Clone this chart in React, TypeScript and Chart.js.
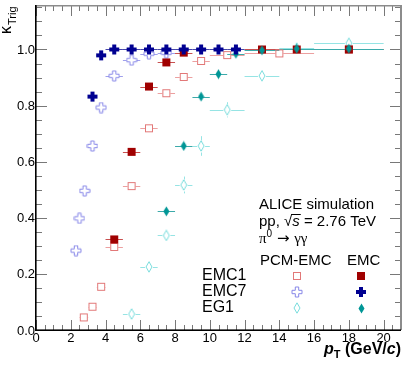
import React, { useEffect, useRef } from 'react';
import { Chart, registerables } from 'chart.js';

Chart.register(...registerables);

// ---------------- data ----------------
// EMC1 trigger, PCM-EMC (open squares)
const emc1PcmX = [2.75, 3.25, 3.75, 4.5, 5.5, 6.5, 7.5, 8.5, 9.5, 11, 14, 18];
const emc1PcmY = [0.045, 0.083, 0.154, 0.296, 0.513, 0.719, 0.844, 0.902, 0.959, 0.98, 0.986, 1.0];
const emc1PcmLo = [2.5, 3, 3.5, 4, 5, 6, 7, 8, 9, 10, 12, 16];
const emc1PcmHi = [3, 3.5, 4, 5, 6, 7, 8, 9, 10, 12, 16, 20];
const emc1PcmErr = [0.004, 0.005, 0.006, 0.008, 0.008, 0.008, 0.008, 0.008, 0.006, 0.006, 0.006, 0.006];

// EMC1 trigger, EMC (filled squares)
const emc1EmcX = [4.5, 5.5, 6.5, 7.5, 8.5, 13, 15, 18];
const emc1EmcY = [0.323, 0.635, 0.868, 0.954, 0.989, 1.0, 1.0, 1.0];
const emc1EmcLo = [4, 5, 6, 7, 8, 12, 14, 16];
const emc1EmcHi = [5, 6, 7, 8, 9, 14, 16, 20];
const emc1EmcErr = [0.005, 0.005, 0.004, 0.003, 0.002, 0.002, 0.002, 0.002];

// EMC7 trigger, PCM-EMC (open crosses)
const emc7PcmX = [2.3, 2.5, 2.8, 3.25, 3.75, 4.5, 5.5, 6.5, 7.5];
const emc7PcmY = [0.283, 0.398, 0.496, 0.656, 0.793, 0.906, 0.962, 0.985, 0.988];
const emc7PcmLo = [2.2, 2.4, 2.6, 3, 3.5, 4, 5, 6, 7];
const emc7PcmHi = [2.4, 2.6, 3, 3.5, 4, 5, 6, 7, 8];
const emc7PcmErr = [0.006, 0.006, 0.006, 0.006, 0.006, 0.006, 0.005, 0.004, 0.004];

// EMC7 trigger, EMC (filled crosses)
const emc7EmcX = [3.25, 3.75, 4.5, 5.5, 6.5, 7.5, 8.5, 9.5, 10.5, 11.5];
const emc7EmcY = [0.832, 0.979, 1.0, 1.0, 1.0, 1.0, 1.0, 1.0, 1.0, 1.0];
const emc7EmcLo = [3, 3.5, 4, 5, 6, 7, 8, 9, 10, 11];
const emc7EmcHi = [3.5, 4, 5, 6, 7, 8, 9, 10, 11, 12];
const emc7EmcErr = [0.003, 0.002, 0.001, 0.001, 0.001, 0.001, 0.001, 0.001, 0.001, 0.001];

// EG1 trigger, PCM-EMC (open diamonds)
const eg1PcmX = [5.5, 6.5, 7.5, 8.5, 9.5, 11, 13, 15, 18];
const eg1PcmY = [0.057, 0.225, 0.337, 0.517, 0.656, 0.785, 0.906, 1.005, 1.022];
const eg1PcmLo = [5, 6, 7, 8, 9, 10, 12, 14, 16];
const eg1PcmHi = [6, 7, 8, 9, 10, 12, 14, 16, 20];
const eg1PcmErr = [0.02, 0.02, 0.018, 0.03, 0.035, 0.027, 0.02, 0.015, 0.02];

// EG1 trigger, EMC (filled diamonds)
const eg1EmcX = [7.5, 8.5, 9.5, 10.5, 11.5, 13, 15, 18];
const eg1EmcY = [0.423, 0.656, 0.832, 0.912, 0.985, 0.997, 1.003, 1.003];
const eg1EmcLo = [7, 8, 9, 10, 11, 12, 14, 16];
const eg1EmcHi = [8, 9, 10, 11, 12, 14, 16, 20];
const eg1EmcErr = [0.01, 0.01, 0.008, 0.007, 0.006, 0.005, 0.004, 0.004];

const xTickValues = [0, 2, 4, 6, 8, 10, 12, 14, 16, 18, 20];
const yTickValues = [0, 0.2, 0.4, 0.6, 0.8, 1.0];
const legendRows = ['EMC1', 'EMC7', 'EG1'];
const legendCols = ['PCM-EMC', 'EMC'];

// ---------------- styling ----------------
const FONT = '"Liberation Sans", Arial, Helvetica, sans-serif';
const C_EMC1_PCM = 'rgb(226,120,120)';
const C_EMC1_EMC = 'rgb(160,0,0)';
const C_EMC7_PCM = 'rgb(136,136,232)';
const C_EMC7_EMC = 'rgb(0,0,145)';
const C_EG1_PCM = 'rgb(120,220,220)';
const C_EG1_EMC = 'rgb(0,150,150)';

type Kind = 'openSquare' | 'fillSquare' | 'openCross' | 'fillCross' | 'openDiamond' | 'fillDiamond';

function makeMarker(kind: Kind, color: string): HTMLCanvasElement {
  const c = document.createElement('canvas');
  let w = 10, h = 10;
  if (kind === 'openCross' || kind === 'fillCross') { w = 12; h = 12; }
  if (kind === 'openDiamond') { w = 8; h = 12; }
  if (kind === 'fillDiamond') { w = 7; h = 11; }
  c.width = w; c.height = h;
  const g = c.getContext('2d')!;
  g.strokeStyle = color;
  g.fillStyle = color;
  g.lineWidth = 1;
  if (kind === 'openSquare') {
    g.strokeRect(1.5, 1.5, 7, 7);
  } else if (kind === 'fillSquare') {
    g.fillRect(1, 1, 8, 8);
  } else if (kind === 'openCross' || kind === 'fillCross') {
    const cx = 6, cy = 6, a = 5, t = kind === 'openCross' ? 1.7 : 2;
    g.beginPath();
    g.moveTo(cx - t, cy - a);
    g.lineTo(cx + t, cy - a);
    g.lineTo(cx + t, cy - t);
    g.lineTo(cx + a, cy - t);
    g.lineTo(cx + a, cy + t);
    g.lineTo(cx + t, cy + t);
    g.lineTo(cx + t, cy + a);
    g.lineTo(cx - t, cy + a);
    g.lineTo(cx - t, cy + t);
    g.lineTo(cx - a, cy + t);
    g.lineTo(cx - a, cy - t);
    g.lineTo(cx - t, cy - t);
    g.closePath();
    if (kind === 'openCross') g.stroke(); else g.fill();
  } else if (kind === 'openDiamond') {
    g.beginPath();
    g.moveTo(4, 0.8);
    g.lineTo(7, 6);
    g.lineTo(4, 11.2);
    g.lineTo(1, 6);
    g.closePath();
    g.stroke();
  } else if (kind === 'fillDiamond') {
    g.beginPath();
    g.moveTo(3.5, 0.5);
    g.lineTo(6.5, 5.5);
    g.lineTo(3.5, 10.5);
    g.lineTo(0.5, 5.5);
    g.closePath();
    g.fill();
  }
  return c;
}

function pts(xs: number[], ys: number[]) {
  return xs.map((x, i) => ({ x, y: ys[i] }));
}

function drawRuns(ctx: CanvasRenderingContext2D, runs: { t: string; f: string; dy?: number }[], x: number, y: number) {
  let cx = x;
  for (const r of runs) {
    ctx.font = r.f;
    ctx.fillText(r.t, cx, y + (r.dy || 0));
    cx += ctx.measureText(r.t).width;
  }
  return cx;
}
function runsWidth(ctx: CanvasRenderingContext2D, runs: { t: string; f: string }[]) {
  let w = 0;
  for (const r of runs) { ctx.font = r.f; w += ctx.measureText(r.t).width; }
  return w;
}

export default function App() {
  const ref = useRef<HTMLCanvasElement | null>(null);

  useEffect(() => {
    const canvas = ref.current;
    if (!canvas) return;

    const mk = {
      emc1Pcm: makeMarker('openSquare', C_EMC1_PCM),
      emc1Emc: makeMarker('fillSquare', C_EMC1_EMC),
      emc7Pcm: makeMarker('openCross', C_EMC7_PCM),
      emc7Emc: makeMarker('fillCross', C_EMC7_EMC),
      eg1Pcm: makeMarker('openDiamond', C_EG1_PCM),
      eg1Emc: makeMarker('fillDiamond', C_EG1_EMC),
    };

    const ds = (label: string, xs: number[], ys: number[], lo: number[], hi: number[], err: number[], color: string, barColor: string, marker: HTMLCanvasElement, gapX: number, gapY: number, order: number) => ({
      label,
      data: pts(xs, ys),
      pointStyle: marker,
      pointRadius: 5,
      showLine: false,
      borderColor: color,
      backgroundColor: color,
      order,
      _lo: lo,
      _hi: hi,
      _err: err,
      _bar: barColor,
      _gapX: gapX,
      _gapY: gapY,
    });

    const errorBars = {
      id: 'errorBars',
      beforeDatasetsDraw(chart: any) {
        const { ctx, chartArea: a, scales: { x, y } } = chart;
        ctx.save();
        ctx.beginPath();
        ctx.rect(a.left, a.top, a.right - a.left, a.bottom - a.top);
        ctx.clip();
        ctx.lineWidth = 1;
        const sets = chart.data.datasets.map((d: any, i: number) => ({ d, i })).sort((p: any, q: any) => q.d.order - p.d.order);
        for (const { d } of sets) {
          ctx.strokeStyle = d._bar;
          d.data.forEach((p: any, k: number) => {
            const px = x.getPixelForValue(p.x);
            const py = Math.round(y.getPixelForValue(p.y)) + 0.5;
            const xl = x.getPixelForValue(d._lo[k]);
            const xh = x.getPixelForValue(d._hi[k]);
            const yt = y.getPixelForValue(p.y + d._err[k]);
            const yb = y.getPixelForValue(p.y - d._err[k]);
            ctx.beginPath();
            if (px - d._gapX > xl) { ctx.moveTo(xl, py); ctx.lineTo(px - d._gapX, py); }
            if (px + d._gapX < xh) { ctx.moveTo(px + d._gapX, py); ctx.lineTo(xh, py); }
            const vx = Math.round(px) + 0.5;
            if (py - d._gapY > yt) { ctx.moveTo(vx, yt); ctx.lineTo(vx, py - d._gapY); }
            if (py + d._gapY < yb) { ctx.moveTo(vx, py + d._gapY); ctx.lineTo(vx, yb); }
            ctx.stroke();
          });
        }
        ctx.restore();
      },
    };

    const frame = {
      id: 'rootFrame',
      afterDraw(chart: any) {
        const { ctx, chartArea: a, scales: { x, y } } = chart;
        ctx.save();
        // ticks
        ctx.strokeStyle = 'rgb(120,120,120)';
        ctx.lineWidth = 1;
        ctx.beginPath();
        for (let i = 0; i <= 42; i++) {
          const v = i * 0.5;
          const px = Math.round(x.getPixelForValue(v)) + 0.5;
          if (px > a.right) break;
          const len = i % 4 === 0 ? 10 : 5;
          ctx.moveTo(px, a.bottom); ctx.lineTo(px, a.bottom - len);
          ctx.moveTo(px, a.top); ctx.lineTo(px, a.top + len);
        }
        for (let i = 0; i <= 23; i++) {
          const v = i * 0.05;
          const py = Math.round(y.getPixelForValue(v)) + 0.5;
          if (py < a.top) break;
          const len = i % 4 === 0 ? 11 : 6;
          ctx.moveTo(a.left, py); ctx.lineTo(a.left + len, py);
          ctx.moveTo(a.right, py); ctx.lineTo(a.right - len, py);
        }
        ctx.stroke();
        // frame
        ctx.fillStyle = 'rgb(140,140,140)';
        ctx.fillRect(a.left, a.top - 1, a.right - a.left, 1.5);
        ctx.fillRect(a.right - 1, a.top - 1, 2, a.bottom - a.top + 1);
        ctx.fillStyle = '#000';
        ctx.fillRect(a.left - 1, a.top - 1, 1.6, a.bottom - a.top + 2);
        ctx.fillRect(a.left - 1, a.bottom - 0.6, a.right - a.left + 1, 1.6);

        // tick labels
        ctx.fillStyle = '#000';
        ctx.font = `13px ${FONT}`;
        ctx.textAlign = 'center';
        ctx.textBaseline = 'alphabetic';
        xTickValues.forEach((v) => {
          ctx.fillText(String(v), x.getPixelForValue(v), a.bottom + 12);
        });
        ctx.textAlign = 'right';
        ctx.textBaseline = 'middle';
        yTickValues.forEach((v) => {
          ctx.fillText(v.toFixed(1), a.left - 1, y.getPixelForValue(v) + 1);
        });

        // x title
        ctx.textAlign = 'left';
        ctx.textBaseline = 'alphabetic';
        const xt = [
          { t: 'p', f: `italic bold 16px ${FONT}` },
          { t: 'T', f: `bold 11px ${FONT}`, dy: 4 },
          { t: ' (GeV/', f: `bold 16px ${FONT}` },
          { t: 'c', f: `italic bold 16px ${FONT}` },
          { t: ')', f: `bold 16px ${FONT}` },
        ];
        const xw = runsWidth(ctx, xt);
        drawRuns(ctx, xt, 401 - xw, 354);

        // y title (rotated)
        ctx.save();
        ctx.translate(11, 34);
        ctx.rotate(-Math.PI / 2);
        ctx.font = `16px ${FONT}`;
        ctx.fillText('\u03ba', 0, 0);
        const kw = ctx.measureText('\u03ba').width;
        ctx.font = `11px ${FONT}`;
        ctx.fillText('Trig', kw + 1, 5);
        ctx.restore();

        // header text
        const f15 = `15px ${FONT}`;
        ctx.font = f15;
        ctx.fillText('ALICE simulation', 259, 209);
        // pp, sqrt(s) = 2.76 TeV
        let cx = drawRuns(ctx, [{ t: 'pp, ', f: f15 }], 259, 226);
        ctx.font = f15;
        ctx.fillText('\u221a', cx, 226);
        const rw = ctx.measureText('\u221a').width;
        ctx.font = `italic 15px ${FONT}`;
        const sw = ctx.measureText('s').width;
        ctx.fillText('s', cx + rw, 226);
        ctx.fillRect(cx + rw - 1, 214, sw + 2, 1);
        drawRuns(ctx, [{ t: ' = 2.76 TeV', f: f15 }], cx + rw + sw, 226);
        // pi0 -> gamma gamma
        drawRuns(ctx, [
          { t: '\u03c0', f: `15px "Liberation Serif", serif` },
          { t: '0', f: `10px ${FONT}`, dy: -6 },
          { t: ' \u2192 ', f: `15px "DejaVu Sans", ${FONT}` },
          { t: '\u03b3\u03b3', f: `15px "Liberation Serif", serif` },
        ], 259, 243);
        // legend header
        ctx.font = f15;
        ctx.fillText(legendCols[0], 260, 264.5);
        ctx.fillText(legendCols[1], 347, 264.5);
        // legend rows
        ctx.font = `16px ${FONT}`;
        const rowY = [280, 296, 312];
        legendRows.forEach((r, i) => ctx.fillText(r, 202, rowY[i]));
        const pcmM = [mk.emc1Pcm, mk.emc7Pcm, mk.eg1Pcm];
        const emcM = [mk.emc1Emc, mk.emc7Emc, mk.eg1Emc];
        const mY = [276, 292, 308];
        pcmM.forEach((m, i) => ctx.drawImage(m, Math.round(297 - m.width / 2), Math.round(mY[i] - m.height / 2)));
        emcM.forEach((m, i) => ctx.drawImage(m, Math.round(361 - m.width / 2), Math.round(mY[i] - m.height / 2)));
        ctx.restore();
      },
    };

    const chart = new Chart(canvas, {
      type: 'scatter',
      data: {
        datasets: [
          ds('EMC1 PCM-EMC', emc1PcmX, emc1PcmY, emc1PcmLo, emc1PcmHi, emc1PcmErr, C_EMC1_PCM, 'rgb(236,160,160)', mk.emc1Pcm, 4, 4, 6),
          ds('EMC7 PCM-EMC', emc7PcmX, emc7PcmY, emc7PcmLo, emc7PcmHi, emc7PcmErr, C_EMC7_PCM, 'rgb(160,160,236)', mk.emc7Pcm, 5, 5, 5),
          ds('EG1 PCM-EMC', eg1PcmX, eg1PcmY, eg1PcmLo, eg1PcmHi, eg1PcmErr, C_EG1_PCM, 'rgb(150,228,228)', mk.eg1Pcm, 4, 6, 4),
          ds('EMC1 EMC', emc1EmcX, emc1EmcY, emc1EmcLo, emc1EmcHi, emc1EmcErr, C_EMC1_EMC, 'rgb(200,80,80)', mk.emc1Emc, 0, 0, 3),
          ds('EG1 EMC', eg1EmcX, eg1EmcY, eg1EmcLo, eg1EmcHi, eg1EmcErr, C_EG1_EMC, 'rgb(60,170,170)', mk.eg1Emc, 0, 0, 2),
          ds('EMC7 EMC', emc7EmcX, emc7EmcY, emc7EmcLo, emc7EmcHi, emc7EmcErr, C_EMC7_EMC, 'rgb(70,70,170)', mk.emc7Emc, 0, 0, 1),
        ] as any,
      },
      options: {
        responsive: false,
        animation: false,
        devicePixelRatio: 1,
        layout: { padding: { left: 36, right: 5, top: 5, bottom: 35 } },
        plugins: { legend: { display: false }, tooltip: { enabled: false } },
        events: [],
        scales: {
          x: { type: 'linear', min: 0, max: 21, display: false },
          y: { type: 'linear', min: 0, max: 1.155, display: false },
        },
      },
      plugins: [errorBars, frame],
    });

    return () => chart.destroy();
  }, []);

  return (
    <div style={{ position: 'fixed', left: 0, top: 0, width: 407, height: 365, background: '#fff' }}>
      <canvas ref={ref} width={407} height={365} style={{ width: 407, height: 365, display: 'block' }} />
    </div>
  );
}
